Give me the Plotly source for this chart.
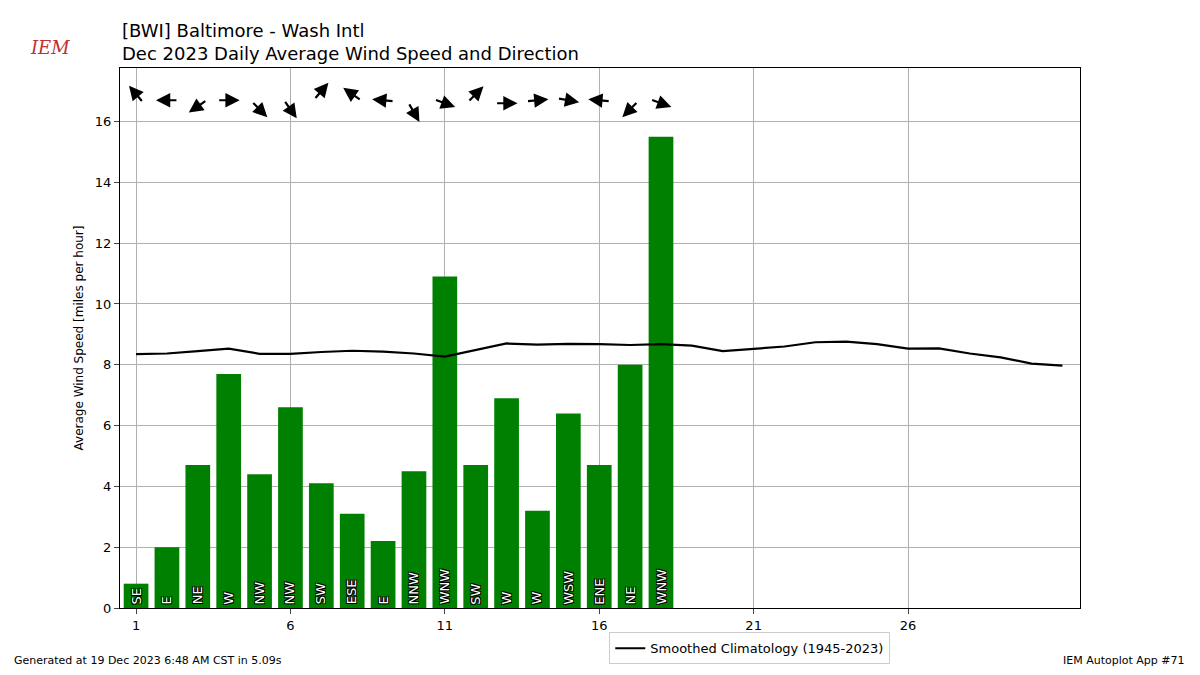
import plotly.graph_objects as go
import math

days = list(range(1, 19))
speeds = [0.8, 2.0, 4.7, 7.7, 4.4, 6.6, 4.1, 3.1, 2.2, 4.5, 10.9, 4.7, 6.9, 3.2, 6.4, 4.7, 8.0, 15.5]
dirs = ["SE", "E", "NE", "W", "NW", "NW", "SW", "ESE", "E", "NNW", "WNW", "SW", "W", "W", "WSW", "ENE", "NE", "WNW"]
arrow_angles = [130, 180, 215, 0, -45, -55, 50, 145, 175, -60, -20, 45, 0, 5, -10, 175, 225, -20]
arrow_y = [16.9, 16.7, 16.5, 16.7, 16.4, 16.4, 17.0, 16.9, 16.7, 16.3, 16.6, 16.9, 16.6, 16.7, 16.7, 16.7, 16.4, 16.6]
clim_days = list(range(1, 32))
clim = [8.35, 8.37, 8.45, 8.53, 8.36, 8.36, 8.42, 8.46, 8.43, 8.37, 8.27, 8.48, 8.70, 8.66, 8.69, 8.68,
        8.65, 8.68, 8.63, 8.45, 8.53, 8.60, 8.74, 8.76, 8.68, 8.53, 8.54, 8.37, 8.24, 8.04, 7.97]

fig = go.Figure()
fig.add_bar(x=days, y=speeds, marker=dict(color="green", line=dict(width=0)), width=0.8, showlegend=False)
fig.add_scatter(x=clim_days, y=clim, mode="lines", line=dict(color="black", width=2.2),
                name="Smoothed Climatology (1945-2023)")

ann = []
for d, lab in zip(days, dirs):
    ann.append(dict(x=d, y=0.05, text=lab, showarrow=False, textangle=-90, yanchor="bottom",
                    font=dict(size=13, color="white", family="DejaVu Sans",
                              shadow="1px 1px 0 black, -1px -1px 0 black, 1px -1px 0 black, -1px 1px 0 black")))
L = 22
for d, a, yy in zip(days, arrow_angles, arrow_y):
    c, s = math.cos(math.radians(a)), math.sin(math.radians(a))
    ann.append(dict(x=d, y=yy, text="", showarrow=True, arrowhead=2, arrowsize=1.3, arrowwidth=2.2,
                    arrowcolor="black", ax=-L * c, ay=L * s, xshift=L / 2 * c, yshift=L / 2 * s))
ann += [
    dict(xref="paper", yref="paper", x=0.0, y=1.0, xanchor="left", yanchor="bottom", yshift=2,
         text="[BWI] Baltimore - Wash Intl<br>Dec 2023 Daily Average Wind Speed and Direction",
         showarrow=False, align="left", font=dict(size=18, color="black")),
    dict(xref="paper", yref="paper", x=-0.05, y=1.0, xanchor="right", yanchor="bottom", yshift=8,
         text="<i>IEM</i>", showarrow=False, font=dict(size=18, color="#c03030", family="DejaVu Serif")),
    dict(xref="paper", yref="paper", x=-0.1125, y=-0.082, xanchor="left", yanchor="top", showarrow=False,
         text="Generated at 19 Dec 2023 6:48 AM CST in 5.09s", font=dict(size=11)),
    dict(xref="paper", yref="paper", x=1.111, y=-0.082, xanchor="right", yanchor="top", showarrow=False,
         text="IEM Autoplot App #71", font=dict(size=11)),
]
fig.update_layout(
    width=1184, height=659, paper_bgcolor="white", plot_bgcolor="white",
    margin=dict(l=112, r=112, t=60, b=59, autoexpand=False),
    font=dict(family="DejaVu Sans", size=13, color="black"),
    annotations=ann, bargap=0.2,
    legend=dict(x=0.656, y=-0.045, xanchor="center", yanchor="top", bordercolor="#cccccc", borderwidth=1,
                font=dict(size=13)),
    xaxis=dict(range=[0.48, 31.57], tickvals=[1, 6, 11, 16, 21, 26], showgrid=True, gridcolor="#b0b0b0",
               showline=True, linecolor="black", mirror=True, ticks="outside", zeroline=False, automargin=False),
    yaxis=dict(range=[0, 17.76], dtick=2, showgrid=True, gridcolor="#b0b0b0", showline=True, linecolor="black",
               mirror=True, ticks="outside", zeroline=False, automargin=False,
               title=dict(text="Average Wind Speed [miles per hour]", font=dict(size=12), standoff=8)),
)
fig.write_html("out.html")
